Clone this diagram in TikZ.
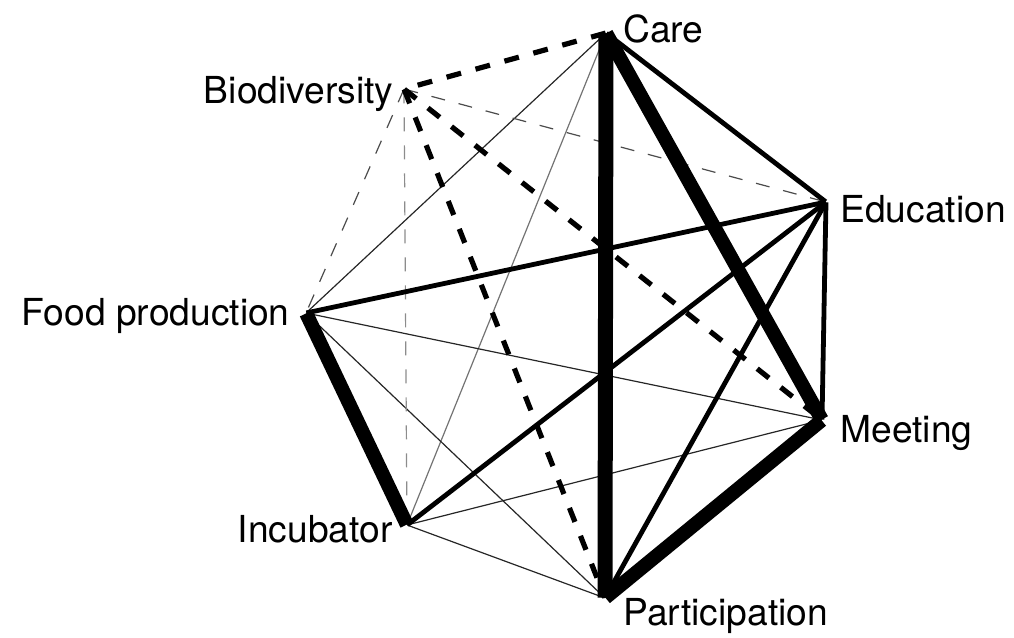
\documentclass[tikz,border=0pt]{standalone}
\usepackage{fontspec}
\setmainfont{TeX Gyre Heros}
\usepackage{tikz}
\usetikzlibrary{positioning}
\tikzset{
  vertex/.style={inner sep=0pt, minimum size=0pt},
  lbl/.style={inner sep=0pt, font=\fontsize{18.6}{22}\selectfont},
  weak/.style={line width=0.6pt, draw=black!85},
  weakgray/.style={line width=0.6pt, draw=black!55},
  weakdash/.style={line width=0.6pt, draw=black!70, dash pattern=on 7pt off 7pt},
  strong/.style={line width=2.4pt, draw=black},
  strongdash/.style={line width=2.6pt, draw=black, dash pattern=on 7.5pt off 7.5pt},
  heavy/.style={line width=7pt, draw=black},
}
\begin{document}
\begin{tikzpicture}[x=0.5pt, y=-0.5pt]
  \useasboundingbox (0,0) rectangle (1014,638);

  % Vertices (clockwise from the top)
  \node[vertex] (care) at (606,33) {};
  \node[vertex] (edu) at (826,202) {};
  \node[vertex] (meet) at (822,420) {};
  \node[vertex] (part) at (605,598) {};
  \node[vertex] (incu) at (407,525) {};
  \node[vertex] (food) at (306,313) {};
  \node[vertex] (bio) at (404,89) {};

  % Labels
  \node[lbl, anchor=base west] (care-lbl) at ([shift={(17,9)}]care) {Care};
  \node[lbl, anchor=base west] (edu-lbl) at ([shift={(14,20)}]edu) {Education};
  \node[lbl, anchor=base west] (meet-lbl) at ([shift={(18,22)}]meet) {Meeting};
  \node[lbl, anchor=base west] (part-lbl) at ([shift={(18,27)}]part) {Participation};
  \node[lbl, anchor=base east] (incu-lbl) at ([shift={(-14,17)}]incu) {Incubator};
  \node[lbl, anchor=base east] (food-lbl) at ([shift={(-16,12)}]food) {Food production};
  \node[lbl, anchor=base east] (bio-lbl) at ([shift={(-10,14)}]bio) {Biodiversity};

  % Thin ties
  \draw[weak] (care) -- (food);
  \draw[weakgray] (care) -- (incu);
  \draw[weak] (food) -- (meet);
  \draw[weak] (food) -- (part);
  \draw[weak] (incu) -- (meet);
  \draw[weak] (incu) -- (part);
  \draw[weakdash] (bio) -- (edu);
  \draw[weakdash] (bio) -- (food);
  \draw[weakdash, draw=black!45] (bio) -- (incu);

  % Strong ties
  \draw[strong] (care) -- (edu);
  \draw[strong] (edu) -- (food);
  \draw[strong] (edu) -- (incu);
  \draw[strong] (edu) -- (part);
  \draw[strong] ([xshift=2pt]edu) -- ([xshift=2pt]meet);
  \draw[strongdash] (care) -- (bio);
  \draw[strongdash] (bio) -- (meet);
  \draw[strongdash] (bio) -- (part);

  % Heaviest ties
  \draw[heavy, line width=7.5pt] ([xshift=3.8pt]care) -- ([xshift=3.8pt]part);
  \draw[heavy] (care) -- (meet);
  \draw[heavy] ([xshift=-2.5pt]food) -- ([xshift=-2.5pt]incu);
  \draw[heavy] ([shift={(2,5)}]meet) -- ([shift={(2,5)}]part);
\end{tikzpicture}
\end{document}
